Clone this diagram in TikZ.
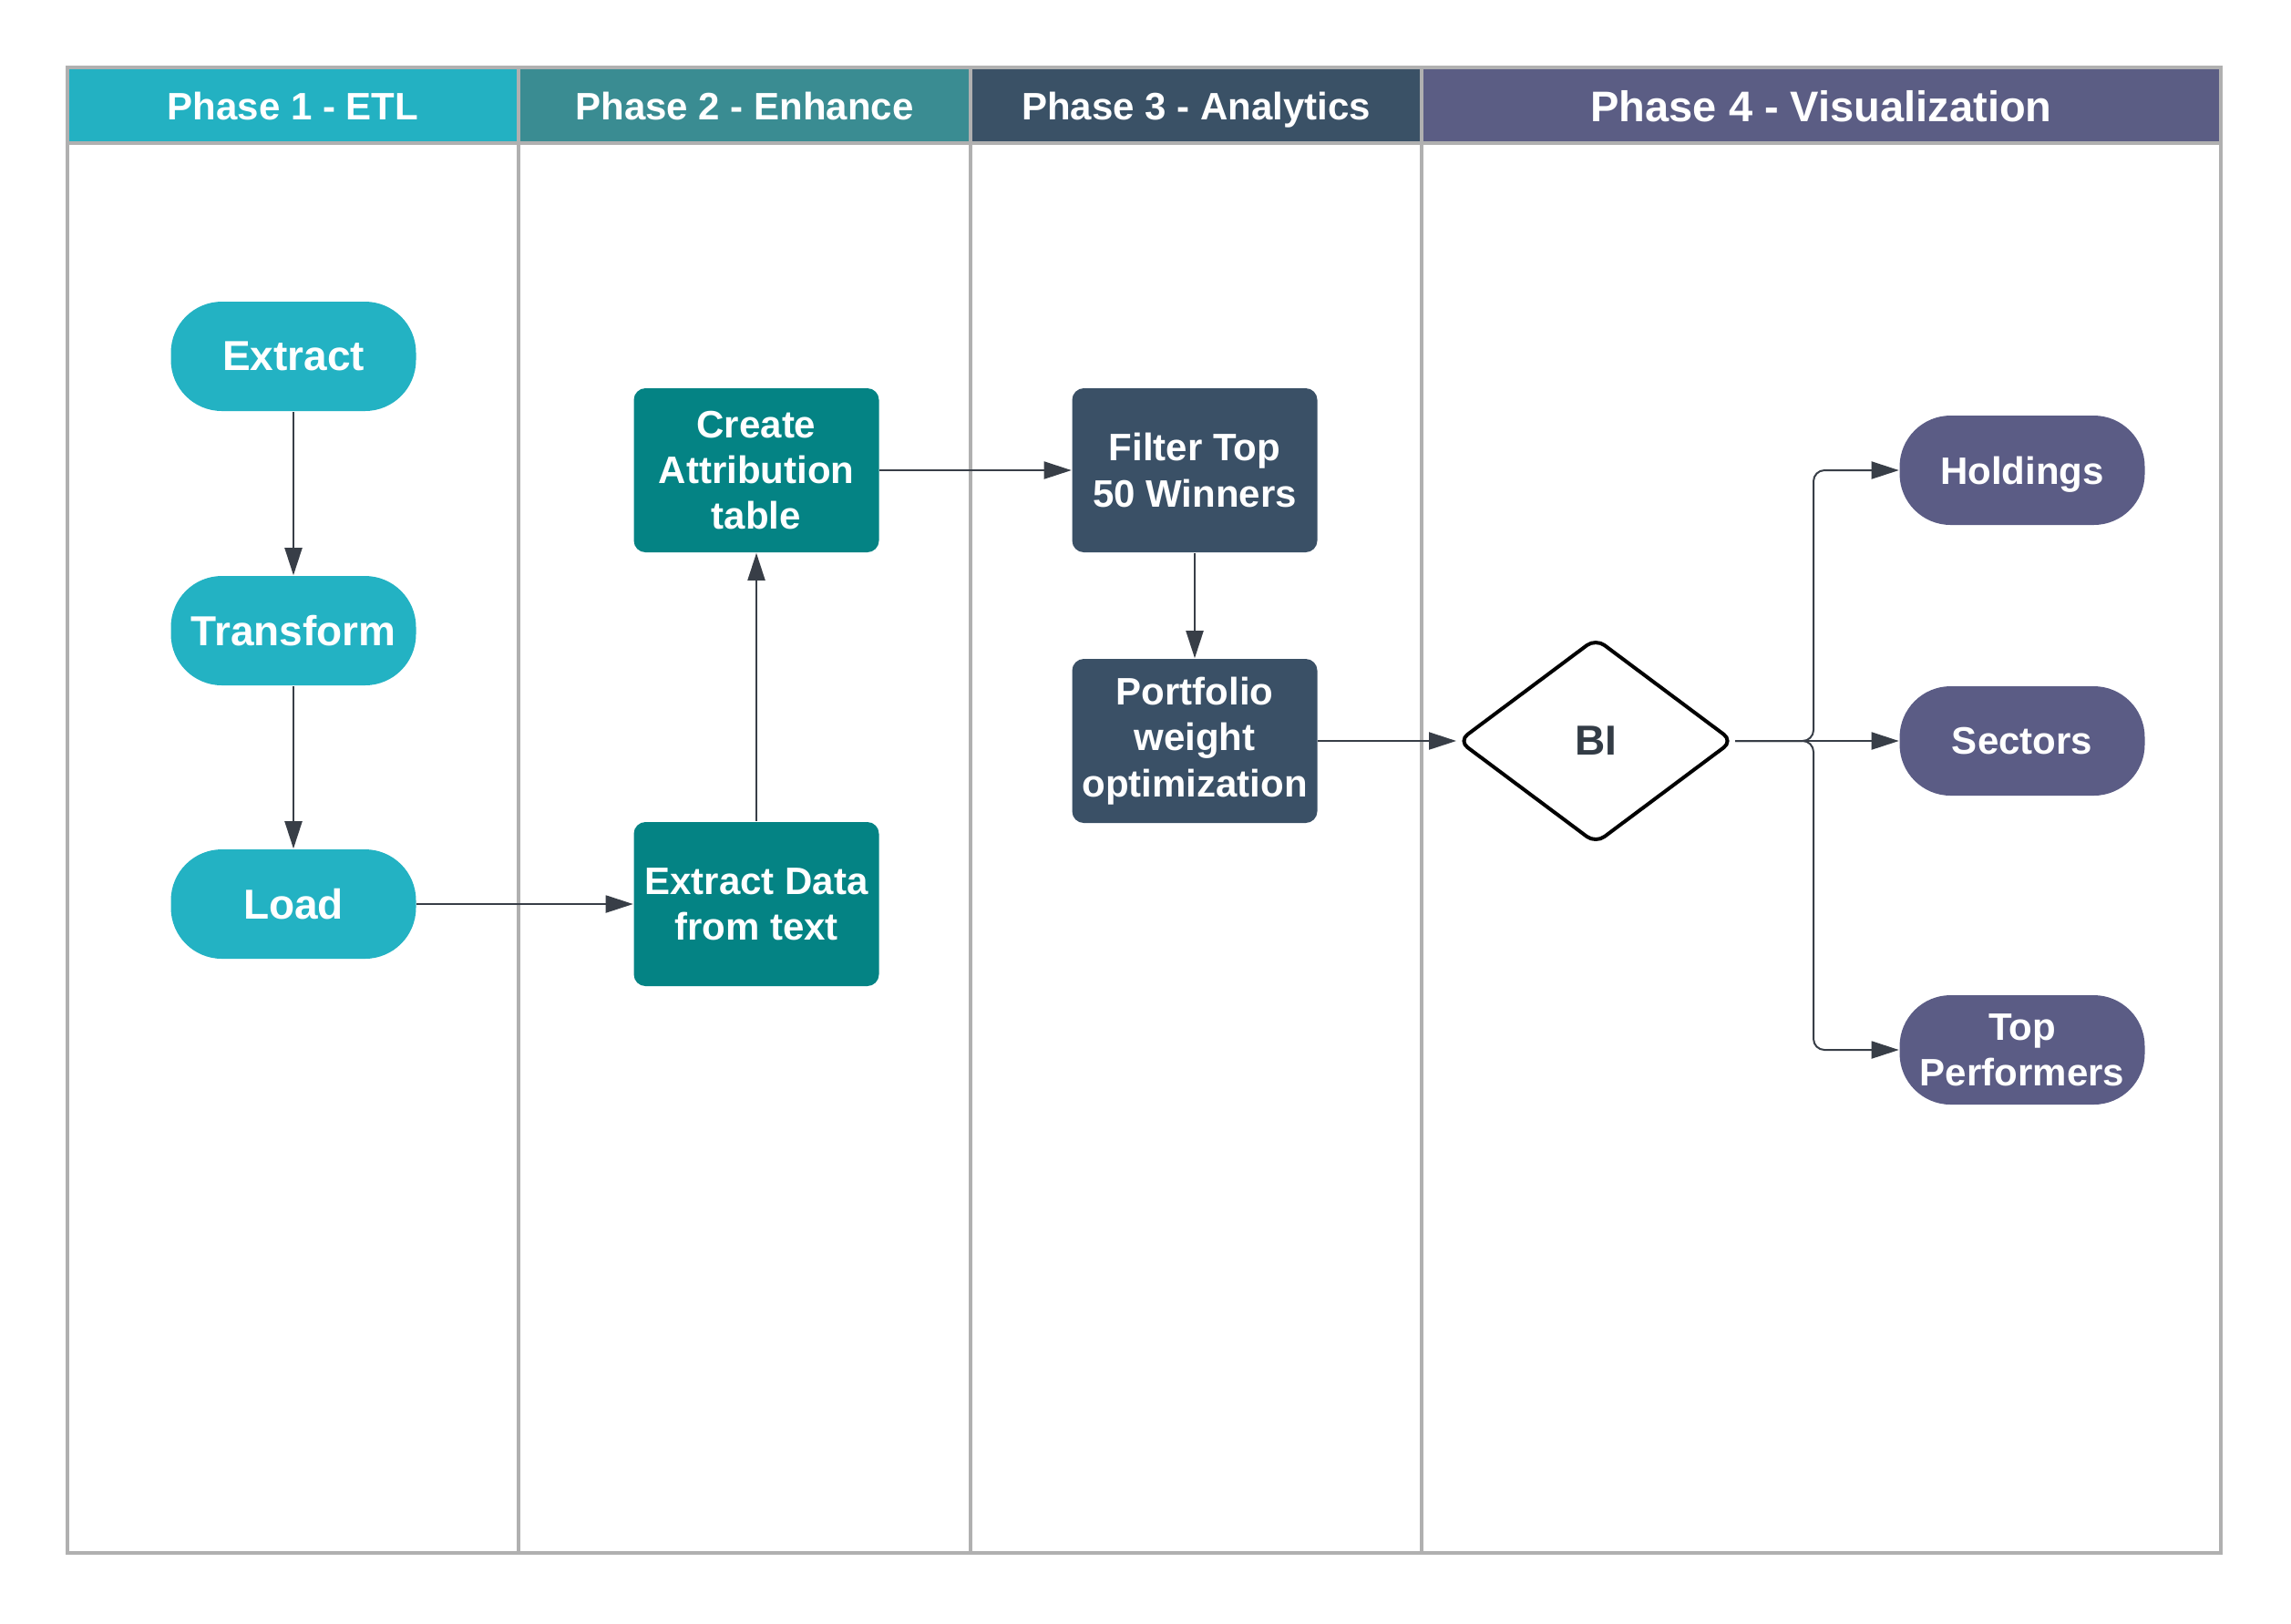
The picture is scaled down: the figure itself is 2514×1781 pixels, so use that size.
\documentclass[tikz,border=0pt]{standalone}
\usepackage{fontspec}
\setmainfont{Liberation Sans}
\usetikzlibrary{arrows.meta,shapes.geometric}
\definecolor{frameg}{HTML}{B0B0B0}
\definecolor{hA}{HTML}{23B1C2}
\definecolor{hB}{HTML}{3A8C92}
\definecolor{hC}{HTML}{3A5166}
\definecolor{hD}{HTML}{5B5D84}
\definecolor{nA}{HTML}{23B2C3}
\definecolor{nB}{HTML}{048384}
\definecolor{nC}{HTML}{3A5066}
\definecolor{nD}{HTML}{5B5C85}
\definecolor{arrc}{HTML}{383E47}
\definecolor{bitext}{HTML}{333C46}
\tikzset{
  lanehead/.style={draw=frameg, line width=0.875pt},
  headtxt/.style={text=white, anchor=base, font=\fontsize{10.5pt}{12.6pt}\selectfont\bfseries, inner sep=0pt},
  pillA/.style={fill=nA, rounded corners=14pt, minimum width=67.25pt, minimum height=30pt, inner sep=0pt, text=white, font=\fontsize{11.5pt}{13.8pt}\selectfont\bfseries},
  pillD/.style={fill=nD, rounded corners=14pt, minimum width=67.25pt, minimum height=30pt, inner sep=0pt, text=white, align=center, font=\fontsize{10.5pt}{12.6pt}\selectfont\bfseries},
  boxB/.style={fill=nB, rounded corners=3.2pt, minimum width=67.25pt, minimum height=45pt, inner sep=0pt, text=white, align=center, font=\fontsize{10.5pt}{12.6pt}\selectfont\bfseries},
  boxC/.style={boxB, fill=nC},
  decis/.style={diamond, draw=black, line width=1pt, rounded corners=3pt, fill=white, minimum width=75.5pt, minimum height=56.5pt, inner sep=0pt, text=bitext, font=\fontsize{11.5pt}{13.8pt}\selectfont\bfseries},
  arr/.style={draw=arrc, line width=0.5pt, -{Triangle[length=7.5pt,width=4.75pt]}}
}
\begin{document}
\begin{tikzpicture}[x=0.25pt,y=-0.25pt]
\useasboundingbox (0,0) rectangle (2514,1781);
% lanes
\draw[draw=frameg, line width=0.875pt] (74,74) rectangle (2437,1704);
\draw[draw=frameg, line width=0.875pt] (569,157) -- (569,1704) (1065,157) -- (1065,1704) (1560,157) -- (1560,1704);
\filldraw[lanehead, fill=hA] (74,74) rectangle (569,157);
\filldraw[lanehead, fill=hB] (569,74) rectangle (1065,157);
\filldraw[lanehead, fill=hC] (1065,74) rectangle (1560,157);
\filldraw[lanehead, fill=hD] (1560,74) rectangle (2437,157);
\node[headtxt] (h1) at (321.5,131) {Phase 1 - ETL};
\node[headtxt] (h2) at (817,131) {Phase 2 - Enhance};
\node[headtxt] (h3) at (1312.5,131) {Phase 3 - Analytics};
\node[headtxt, font=\fontsize{11.75pt}{14pt}\selectfont\bfseries] (h4) at (1998.5,133) {Phase 4 - Visualization};
% nodes
\node[pillA] (ext) at (322,391) {Extract};
\node[pillA] (tra) at (322,692) {Transform};
\node[pillA] (loa) at (322,992) {Load};
\node[boxB] (cat) at (830,516) {Create\\Attribution\\table};
\node[boxB] (edt) at (830,992) {Extract Data\\from text};
\node[boxC] (flt) at (1311,516) {Filter Top\\50 Winners};
\node[boxC] (pwo) at (1311,813) {Portfolio\\weight\\optimization};
\node[decis] (bi) at (1751,813) {BI};
\node[pillD, text depth=0pt] (hol) at (2219,516) {Holdings};
\node[pillD] (sec) at (2219,813) {Sectors};
\node[pillD] (top) at (2219,1152) {Top\\Performers};
\coordinate (bus) at (1990,813);
% connectors
\draw[arr] (ext) -- (tra);
\draw[arr] (tra) -- (loa);
\draw[arr] (loa.east) -- (edt.west);
\draw[arr] (edt.north) -- (cat.south);
\draw[arr] (cat.east) -- (flt.west);
\draw[arr] (flt.south) -- (pwo.north);
\draw[arr] (pwo.east) -- (bi.west);
\draw[arr, rounded corners=3pt] (bi.east) -- (bus) |- (hol.west);
\draw[arr] (bi.east) -- (sec.west);
\draw[arr, rounded corners=3pt] (bi.east) -- (bus) |- (top.west);
\end{tikzpicture}
\end{document}
